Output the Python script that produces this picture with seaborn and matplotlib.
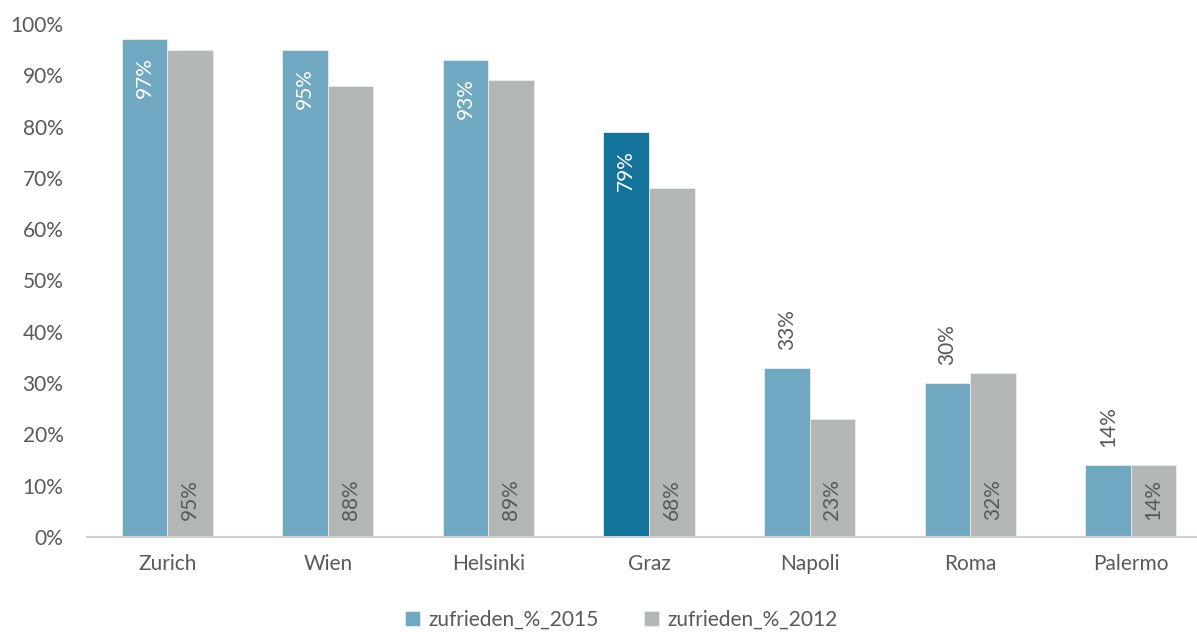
import pandas as pd
import seaborn as sns
import matplotlib.pyplot as plt
from matplotlib.ticker import PercentFormatter

# Daten
staedte = ["Zurich", "Wien", "Helsinki", "Graz", "Napoli", "Roma", "Palermo"]
zufrieden_2015 = [97, 95, 93, 79, 33, 30, 14]
zufrieden_2012 = [95, 88, 89, 68, 23, 32, 14]
serien = ["zufrieden_%_2015", "zufrieden_%_2012"]

df = pd.DataFrame({
    "stadt": staedte * 2,
    "wert": [v / 100 for v in zufrieden_2015 + zufrieden_2012],
    "serie": [serien[0]] * len(staedte) + [serien[1]] * len(staedte),
})

sns.set_style("white")
plt.rcParams['font.family'] = ['Lato', 'DejaVu Sans']
textfarbe = "#595959"
fs = 15

fig = plt.figure(figsize=(11.97, 6.32), dpi=100)
ax = fig.add_axes([87 / 1197, 95 / 632, 1124 / 1197, 513 / 632])

sns.barplot(data=df, x="stadt", y="wert", hue="serie", order=staedte, hue_order=serien,
            palette=["#70A8C2", "#B3B6B7"], width=0.567, saturation=1,
            edgecolor="#E8EEF0", linewidth=0.6, ax=ax)

# Graz hervorheben
ax.containers[0][3].set_facecolor("#13739A")

ax.set_ylim(0, 1)
ax.yaxis.set_major_locator(plt.MultipleLocator(0.1))
ax.yaxis.set_major_formatter(PercentFormatter(1.0, decimals=0))
ax.set_xlabel("")
ax.set_ylabel("")
sns.despine(ax=ax, left=True)
ax.spines["bottom"].set_color("#D0D0D0")
ax.spines["bottom"].set_linewidth(1.5)
ax.tick_params(axis="x", length=0, pad=12, labelsize=fs, labelcolor=textfarbe)
ax.tick_params(axis="y", length=0, pad=17, labelsize=fs, labelcolor=textfarbe)

# Beschriftungen
for p, v in zip(ax.containers[0], zufrieden_2015):
    xm = p.get_x() + p.get_width() / 2
    h = p.get_height()
    if v > 50:
        ax.annotate(f"{v}%", (xm, h), xytext=(0, -13), textcoords="offset points",
                    rotation=90, ha="center", va="top", color="white", fontsize=fs)
    else:
        ax.annotate(f"{v}%", (xm, h), xytext=(0, 13), textcoords="offset points",
                    rotation=90, ha="center", va="bottom", color=textfarbe, fontsize=fs)
for p, v in zip(ax.containers[1], zufrieden_2012):
    xm = p.get_x() + p.get_width() / 2
    ax.annotate(f"{v}%", (xm, 0), xytext=(0, 12), textcoords="offset points",
                rotation=90, ha="center", va="bottom", color=textfarbe, fontsize=fs)

sns.move_legend(ax, "center", bbox_to_anchor=(0.519, 0.019), bbox_transform=fig.transFigure,
                ncol=2, frameon=False, title=None, fontsize=fs, handlelength=0.7,
                handleheight=0.7, handletextpad=0.4, columnspacing=2.2)
for t in ax.get_legend().get_texts():
    t.set_color(textfarbe)

fig.savefig("out.png", dpi=100)
